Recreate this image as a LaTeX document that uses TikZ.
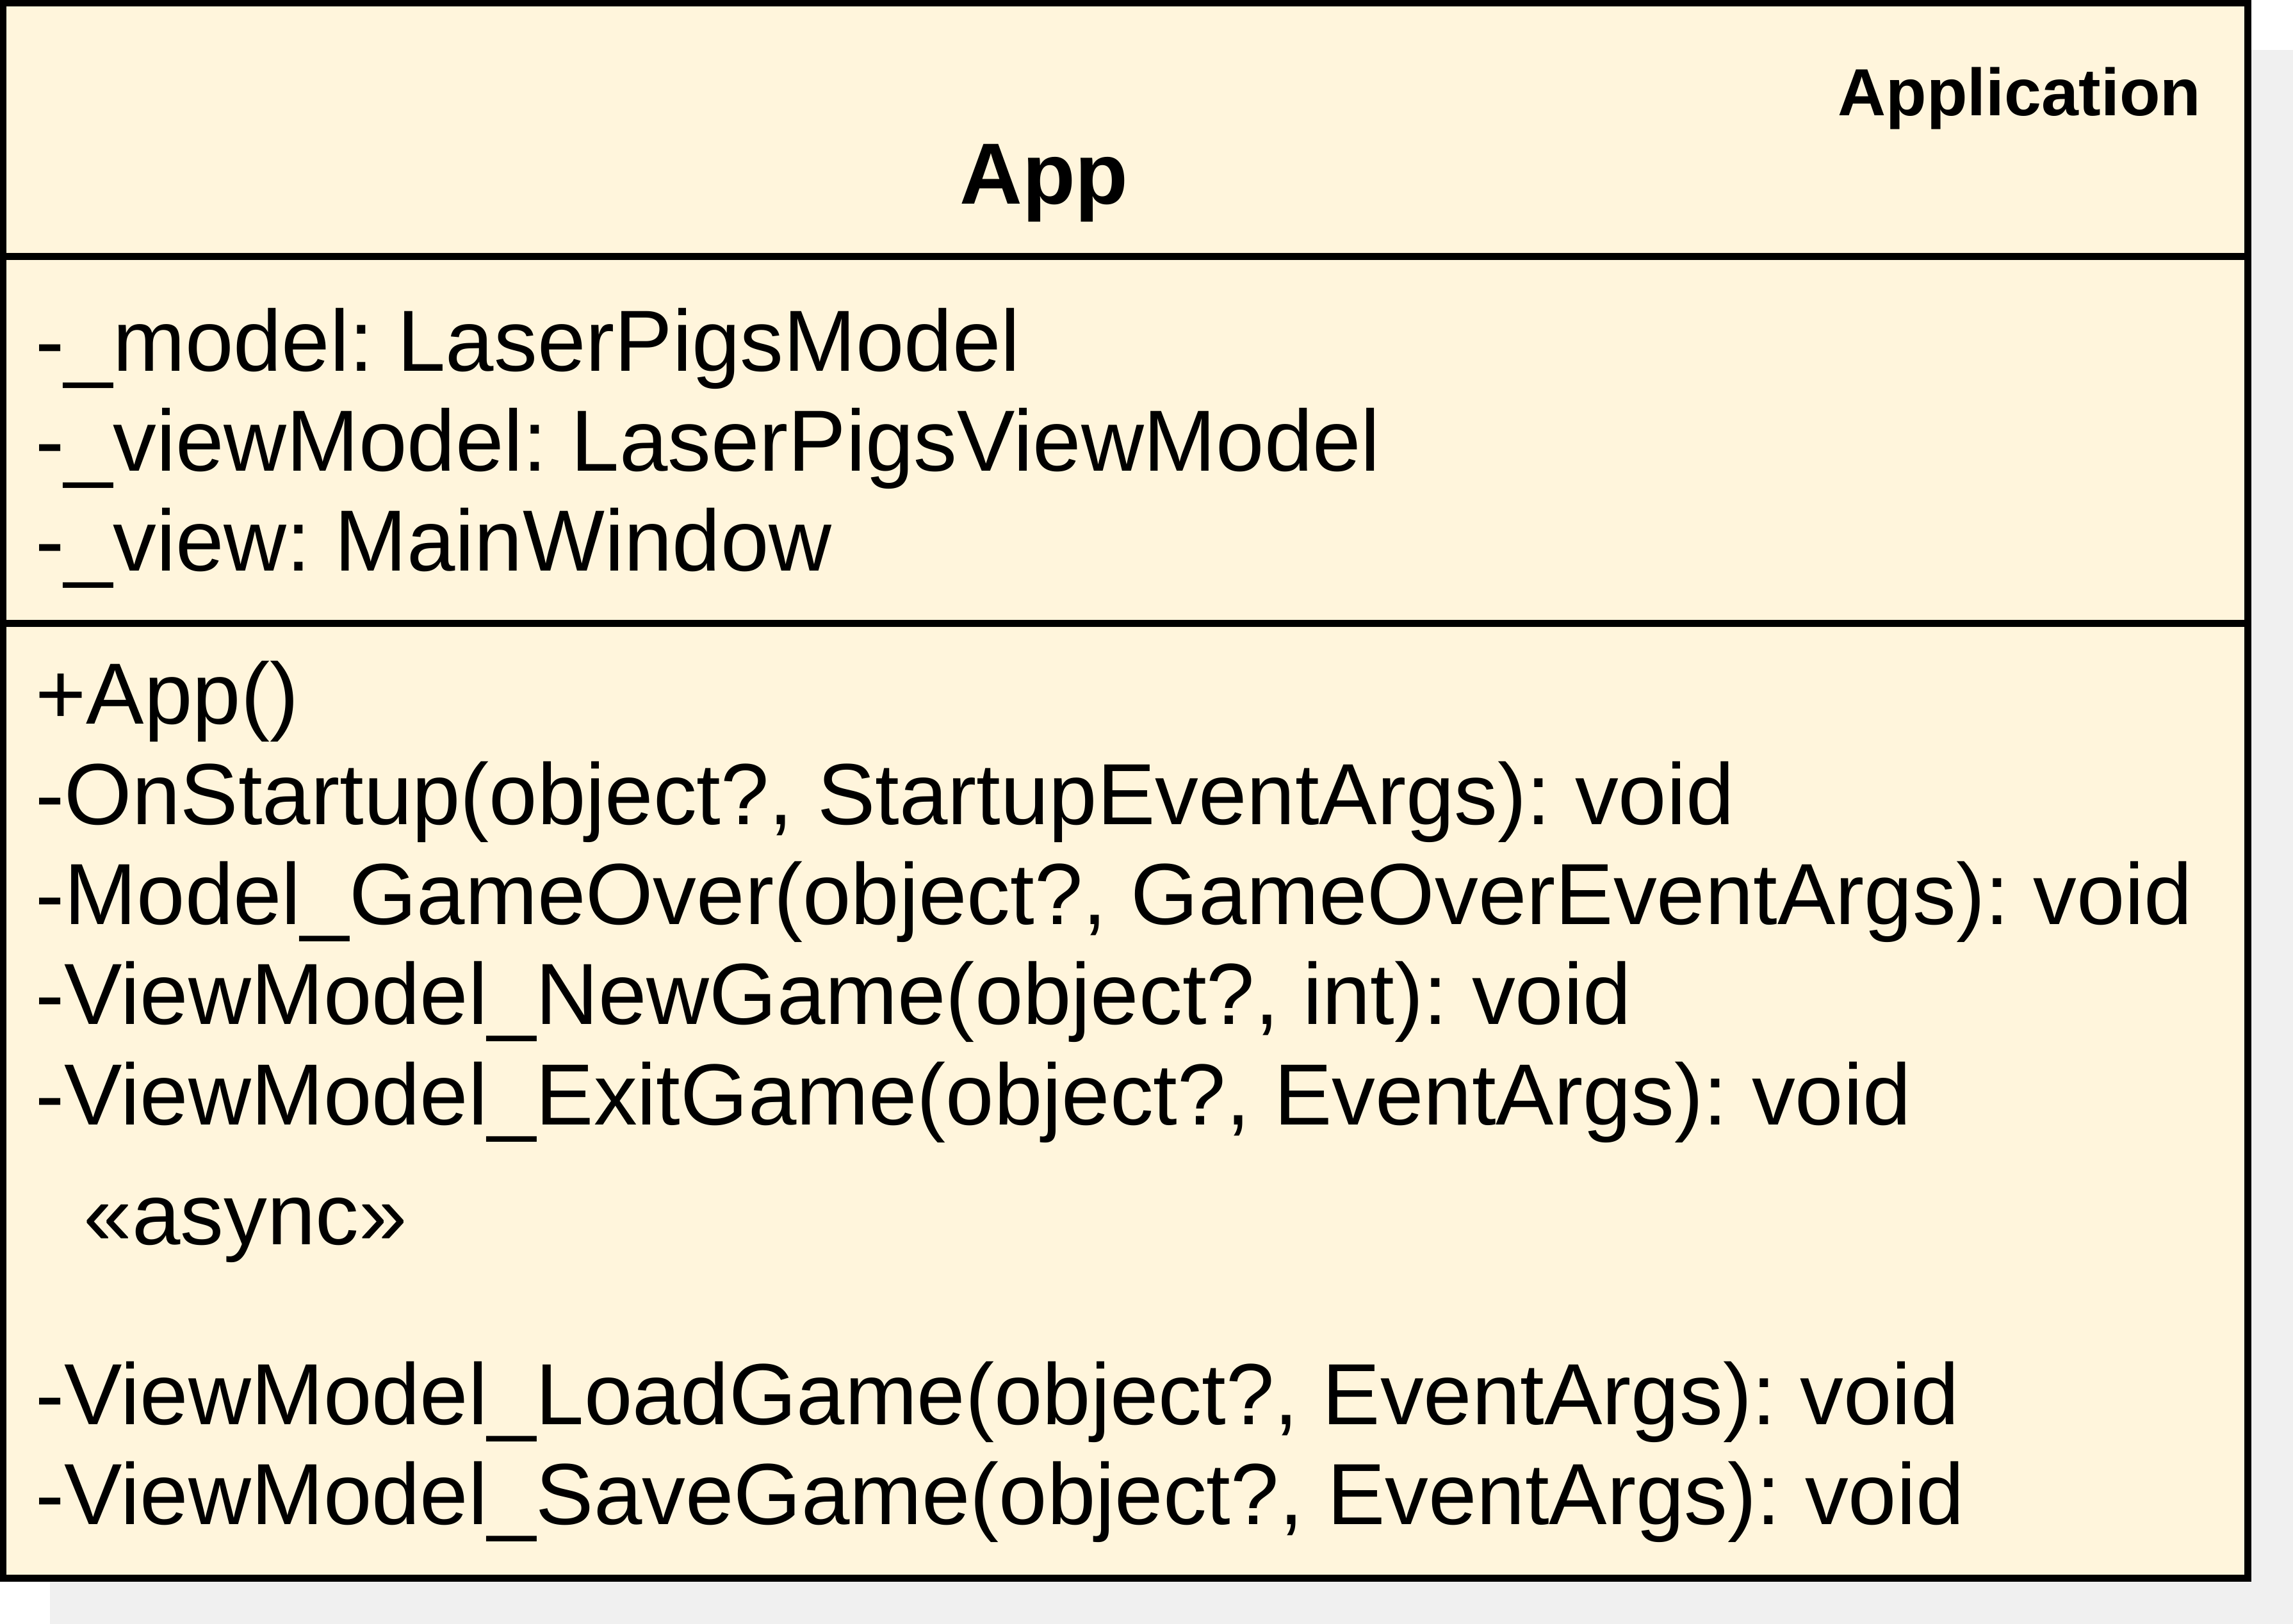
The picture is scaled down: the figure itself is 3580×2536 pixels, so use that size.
\documentclass[tikz,border=0pt]{standalone}
\usepackage{fontspec}
\setmainfont{Liberation Sans}
\usepackage{tikz}
\usetikzlibrary{positioning}
\usepackage{xcolor}
\definecolor{umlfill}{RGB}{255,245,220}
\definecolor{umlshadow}{RGB}{240,240,240}
\tikzstyle{compartment} = [rectangle, draw=black, fill=umlfill, line width=3.1pt, inner sep=0pt, outer sep=0pt, minimum width=35.02cm]
\tikzstyle{member} = [anchor=base west, inner sep=0pt, font=\fontsize{38.55}{44}\selectfont]
\tikzstyle{classname} = [anchor=base, inner sep=0pt, font=\fontsize{38.55}{44}\selectfont\bfseries]
\tikzstyle{package} = [anchor=base east, inner sep=0pt, font=\fontsize{29.6}{34}\selectfont\bfseries]
\frenchspacing

\begin{document}
\begin{tikzpicture}[x=0.01cm, y=-0.01cm]
\useasboundingbox (0,0) rectangle (3580,2536);
% Shadow
\fill[umlshadow] (78,78) rectangle (3580,2536);
% Class box
\node[compartment, minimum height=3.95cm, anchor=north west] (header) at (5,5) {};
\node[compartment, minimum height=5.73cm, below=0pt of header] (attrs) {};
\node[compartment, minimum height=14.90cm, below=0pt of attrs] (methods) {};

\node[package] (pkg) at (3437,180) {Application};
\node[classname] (name) at (1630,318) {App};

\node[member] (modelattr) at (55,579) {-\_model: LaserPigsModel};
\node[member] (vmattr) at (55,735) {-\_viewModel: LaserPigsViewModel};
\node[member] (viewattr) at (55,891) {-\_view: MainWindow};

\node[member] (ctor) at (55,1130) {+App()};
\node[member] (startup) at (55,1287) {-OnStartup(object?, StartupEventArgs): void};
\node[member] (gameover) at (55,1443) {-Model\_GameOver(object?, GameOverEventArgs): void};
\node[member] (newgame) at (55,1599) {-ViewModel\_NewGame(object?, int): void};
\node[member] (exitgame) at (55,1756) {-ViewModel\_ExitGame(object?, EventArgs): void};
\node[member] (async) at (130,1943) {«async»};
\node[member] (loadgame) at (55,2224) {-ViewModel\_LoadGame(object?, EventArgs): void};
\node[member] (savegame) at (55,2380) {-ViewModel\_SaveGame(object?, EventArgs): void};
\end{tikzpicture}
\end{document}
